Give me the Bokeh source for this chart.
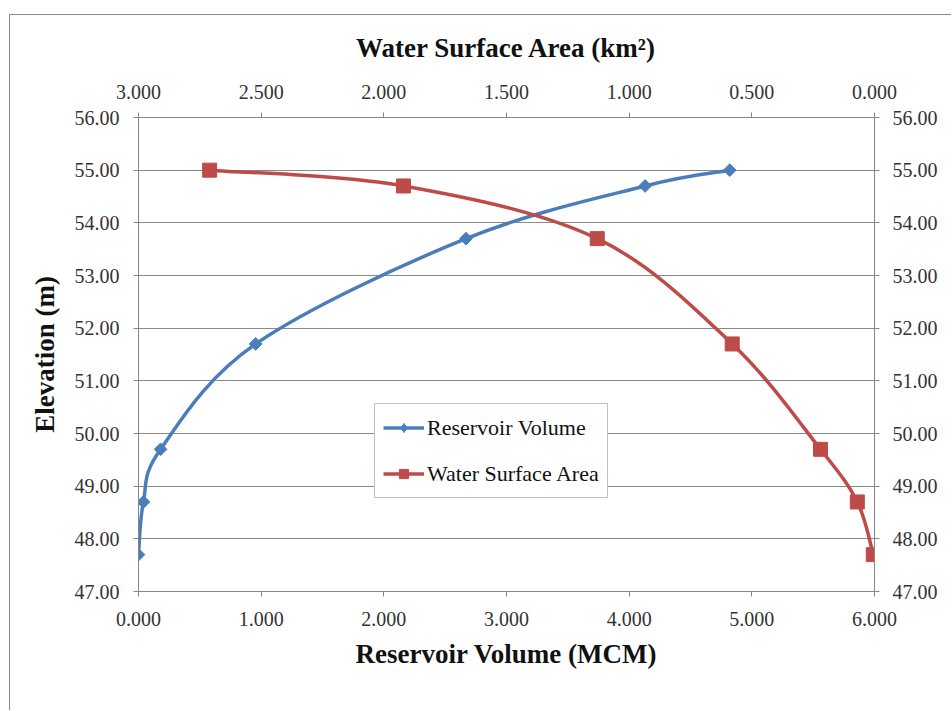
import numpy as np
from bokeh.plotting import figure
from bokeh.models import (Range1d, LinearAxis, FixedTicker, NumeralTickFormatter,
                          Legend, LegendItem)
from bokeh.embed import file_html
from bokeh.resources import INLINE

# ---- data ----
elevation = [47.7, 48.7, 49.7, 51.7, 53.7, 54.7, 55.0]
reservoir_volume = [0.0, 0.04, 0.18, 0.955, 2.67, 4.13, 4.82]     # MCM
surface_area = [0.005, 0.07, 0.22, 0.58, 1.13, 1.92, 2.71]         # km2
vol_ticks = [0, 1, 2, 3, 4, 5, 6]
area_ticks = [0.0, 0.5, 1.0, 1.5, 2.0, 2.5, 3.0]
elev_ticks = [47, 48, 49, 50, 51, 52, 53, 54, 55, 56]

BLUE = "#4a7ebb"
RED = "#be4b48"
AXIS = "#868686"
FONT = "Liberation Serif"


def smooth_segments(xs, ys):
    """Bezier control points (Excel-like smoothing) through the data points."""
    xs = np.asarray(xs, float)
    ys = np.asarray(ys, float)
    n = len(xs)
    x0, y0, x1, y1, cx0, cy0, cx1, cy1 = ([] for _ in range(8))
    for i in range(n - 1):
        pxm = xs[i - 1] if i > 0 else xs[i]
        pym = ys[i - 1] if i > 0 else ys[i]
        pxp = xs[i + 2] if i + 2 < n else xs[i + 1]
        pyp = ys[i + 2] if i + 2 < n else ys[i + 1]
        x0.append(xs[i]); y0.append(ys[i])
        x1.append(xs[i + 1]); y1.append(ys[i + 1])
        cx0.append(xs[i] + (xs[i + 1] - pxm) / 6.0)
        cy0.append(ys[i] + (ys[i + 1] - pym) / 6.0)
        cx1.append(xs[i + 1] - (pxp - xs[i]) / 6.0)
        cy1.append(ys[i + 1] - (pyp - ys[i]) / 6.0)
    return dict(x0=x0, y0=y0, x1=x1, y1=y1, cx0=cx0, cy0=cy0, cx1=cx1, cy1=cy1)


p = figure(width=942, height=696, output_backend="svg", toolbar_location=None,
           x_range=Range1d(0, 6), y_range=Range1d(47, 56),
           min_border_left=128, min_border_right=78, min_border_top=102,
           min_border_bottom=120, x_axis_type=None, y_axis_type=None)
p.styles = {"margin-left": "9px", "margin-top": "14px",
            "border-left": "1px solid #8c8c8c", "border-top": "1px solid #8c8c8c"}
p.extra_x_ranges = {"area": Range1d(3, 0)}
p.background_fill_color = "white"
p.border_fill_color = "white"
p.outline_line_color = None


def style_axis(ax, fmt, ticks, title=None, standoff=10, title_standoff=12):
    ax.ticker = FixedTicker(ticks=ticks)
    ax.formatter = NumeralTickFormatter(format=fmt)
    ax.axis_line_color = AXIS
    ax.major_tick_line_color = AXIS
    ax.major_tick_out = 5
    ax.major_tick_in = 0
    ax.minor_tick_line_color = None
    ax.major_label_text_font = FONT
    ax.major_label_text_font_size = "20px"
    ax.major_label_text_color = "#333333"
    ax.major_label_standoff = standoff
    if title:
        ax.axis_label = title
        ax.axis_label_text_font = FONT
        ax.axis_label_text_font_size = "27px"
        ax.axis_label_text_font_style = "bold"
        ax.axis_label_text_color = "#111111"
        ax.axis_label_standoff = title_standoff


bottom = LinearAxis()
style_axis(bottom, "0.000", vol_ticks, "Reservoir Volume (MCM)", 15, 10)
p.add_layout(bottom, "below")

top = LinearAxis(x_range_name="area")
style_axis(top, "0.000", area_ticks, "Water Surface Area (km\u00b2)", 14, 19)
p.add_layout(top, "above")

left = LinearAxis()
style_axis(left, "0.00", elev_ticks, "Elevation (m)", 14, 12)
p.add_layout(left, "left")

right = LinearAxis()
style_axis(right, "0.00", elev_ticks, None, 13)
p.add_layout(right, "right")

# horizontal gridlines
p.hspan(y=elev_ticks[1:-1], line_color="#8a8a8a", line_width=1)
p.hspan(y=[elev_ticks[-1]], line_color=AXIS, line_width=1)

# curves
vs = smooth_segments(reservoir_volume, elevation)
blue_line = p.bezier(x0="x0", y0="y0", x1="x1", y1="y1", cx0="cx0", cy0="cy0",
                     cx1="cx1", cy1="cy1", source=vs, line_color=BLUE, line_width=3.5)
ar = smooth_segments(surface_area, elevation)
red_line = p.bezier(x0="x0", y0="y0", x1="x1", y1="y1", cx0="cx0", cy0="cy0",
                    cx1="cx1", cy1="cy1", source=ar, line_color=RED, line_width=3.5,
                    x_range_name="area")

# diamond markers: a small diamond (used for the legend glyph) under a rotated square
blue_leg = p.scatter(reservoir_volume, elevation, marker="diamond", size=10,
                     fill_color=BLUE, line_color=BLUE)
blue_pts = p.scatter(reservoir_volume, elevation, marker="square", angle=np.pi / 4,
                     size=9, fill_color=BLUE, line_color=BLUE)
red_pts = p.scatter(surface_area, elevation, marker="square", size=14,
                    fill_color=RED, line_color=RED, x_range_name="area")

# legend
legend = Legend(items=[
    LegendItem(label="Reservoir Volume", renderers=[blue_line, blue_leg]),
    LegendItem(label="Water Surface Area", renderers=[red_line, red_pts]),
], location=(236, 93))
legend.label_text_font = FONT
legend.label_text_font_size = "22px"
legend.label_text_color = "#111111"
legend.glyph_width = 41
legend.glyph_height = 23
legend.label_height = 31
legend.spacing = 15
legend.padding = 8
legend.margin = 0
legend.label_standoff = 3
legend.border_line_color = AXIS
legend.border_line_width = 1
legend.background_fill_color = "white"
legend.background_fill_alpha = 1
p.add_layout(legend, "center")

open("out.html", "w").write(file_html(p, INLINE))
